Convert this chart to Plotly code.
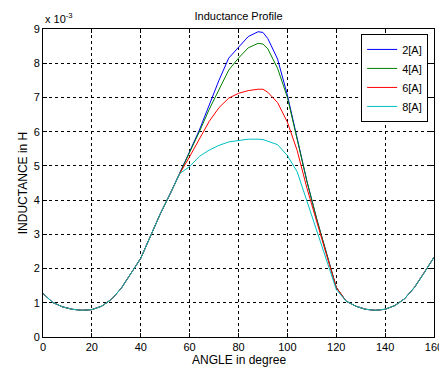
import plotly.graph_objects as go

# Angle in degrees
angle = [0, 4, 8, 12, 16, 20, 24, 28, 32, 36, 40, 44, 48, 52, 56, 60, 64, 68, 72, 76,
         80, 84, 88, 90, 92, 96, 100, 104, 108, 112, 116, 120, 124, 128, 132, 136,
         140, 144, 148, 152, 156, 160]

# Inductance values in units of 1e-3 H
low_start = [1.27, 1.01, 0.88, 0.81, 0.78, 0.80, 0.90, 1.10, 1.42, 1.85, 2.30, 2.95, 3.60, 4.18, 4.78]
low_end = [1.05, 0.90, 0.81, 0.78, 0.81, 0.92, 1.12, 1.45, 1.88, 2.33]

mid_2A = [5.42, 6.05, 6.80, 7.50, 8.15, 8.45, 8.78, 8.92, 8.90, 8.72, 8.12, 7.07, 5.80, 4.55, 3.45, 2.47, 1.45]
mid_4A = [5.40, 6.00, 6.65, 7.25, 7.80, 8.15, 8.45, 8.58, 8.56, 8.42, 7.85, 7.00, 5.80, 4.55, 3.45, 2.47, 1.45]
mid_6A = [5.27, 5.80, 6.30, 6.70, 6.98, 7.12, 7.20, 7.24, 7.24, 7.15, 6.85, 6.28, 5.45, 4.35, 3.35, 2.40, 1.45]
mid_8A = [4.98, 5.28, 5.46, 5.60, 5.70, 5.75, 5.78, 5.78, 5.77, 5.72, 5.62, 5.30, 4.83, 3.97, 3.12, 2.25, 1.39]

series = {
    "2[A]": low_start + mid_2A + low_end,
    "4[A]": low_start + mid_4A + low_end,
    "6[A]": low_start + mid_6A + low_end,
    "8[A]": low_start + mid_8A + low_end,
}
colors = {"2[A]": "#0000ff", "4[A]": "#008000", "6[A]": "#ff0000", "8[A]": "#00bfbf"}

yticks = [0, 1, 2, 3, 4, 5, 6, 7, 8, 9]
xticks = [0, 20, 40, 60, 80, 100, 120, 140, 160]

fig = go.Figure()
for name, vals in series.items():
    fig.add_trace(go.Scatter(x=angle, y=vals, mode="lines", name=name,
                             line=dict(color=colors[name], width=1)))

font = dict(family="Liberation Sans, Arial, sans-serif", size=11, color="black")
title_font = dict(size=12, family=font["family"], color="black")
axis_common = dict(showline=True, linecolor="black", linewidth=1, mirror="ticks",
                   ticks="inside", ticklen=4, tickcolor="black",
                   showgrid=True, gridcolor="black", gridwidth=1, griddash="3px,3px",
                   zeroline=False, tickfont=font, automargin=False)

W, H = 439, 361  # page body has an 8px margin
fig.update_layout(
    width=W, height=H,
    margin=dict(l=35, r=13, t=21, b=32),
    paper_bgcolor="white", plot_bgcolor="white",
    font=font,
    title=dict(text="Inductance Profile", x=0.5, xref="paper", xanchor="center",
               y=1 - 8 / H, yanchor="middle", font=dict(size=11, family=font["family"])),
    xaxis=dict(range=[0, 160], tickvals=xticks, **axis_common),
    yaxis=dict(range=[0, 9], tickvals=yticks,
               title=dict(text="INDUCTANCE in H", standoff=3, font=title_font),
               **axis_common),
    legend=dict(x=0.985, y=0.984, xanchor="right", yanchor="top",
                bgcolor="white", bordercolor="black", borderwidth=1,
                font=dict(size=11, family=font["family"], color="black"),
                tracegroupgap=0, itemwidth=30),
    showlegend=True,
)
fig.add_annotation(text="ANGLE in degree", xref="paper", yref="paper", x=0.5, y=0,
                   xanchor="center", yanchor="bottom", yshift=-32, showarrow=False,
                   font=title_font)
fig.add_annotation(text="x 10<sup>-3</sup>", xref="paper", yref="paper", x=0, y=1,
                   xanchor="left", yanchor="bottom", showarrow=False, font=font, yshift=2)

fig.write_html("out.html")
